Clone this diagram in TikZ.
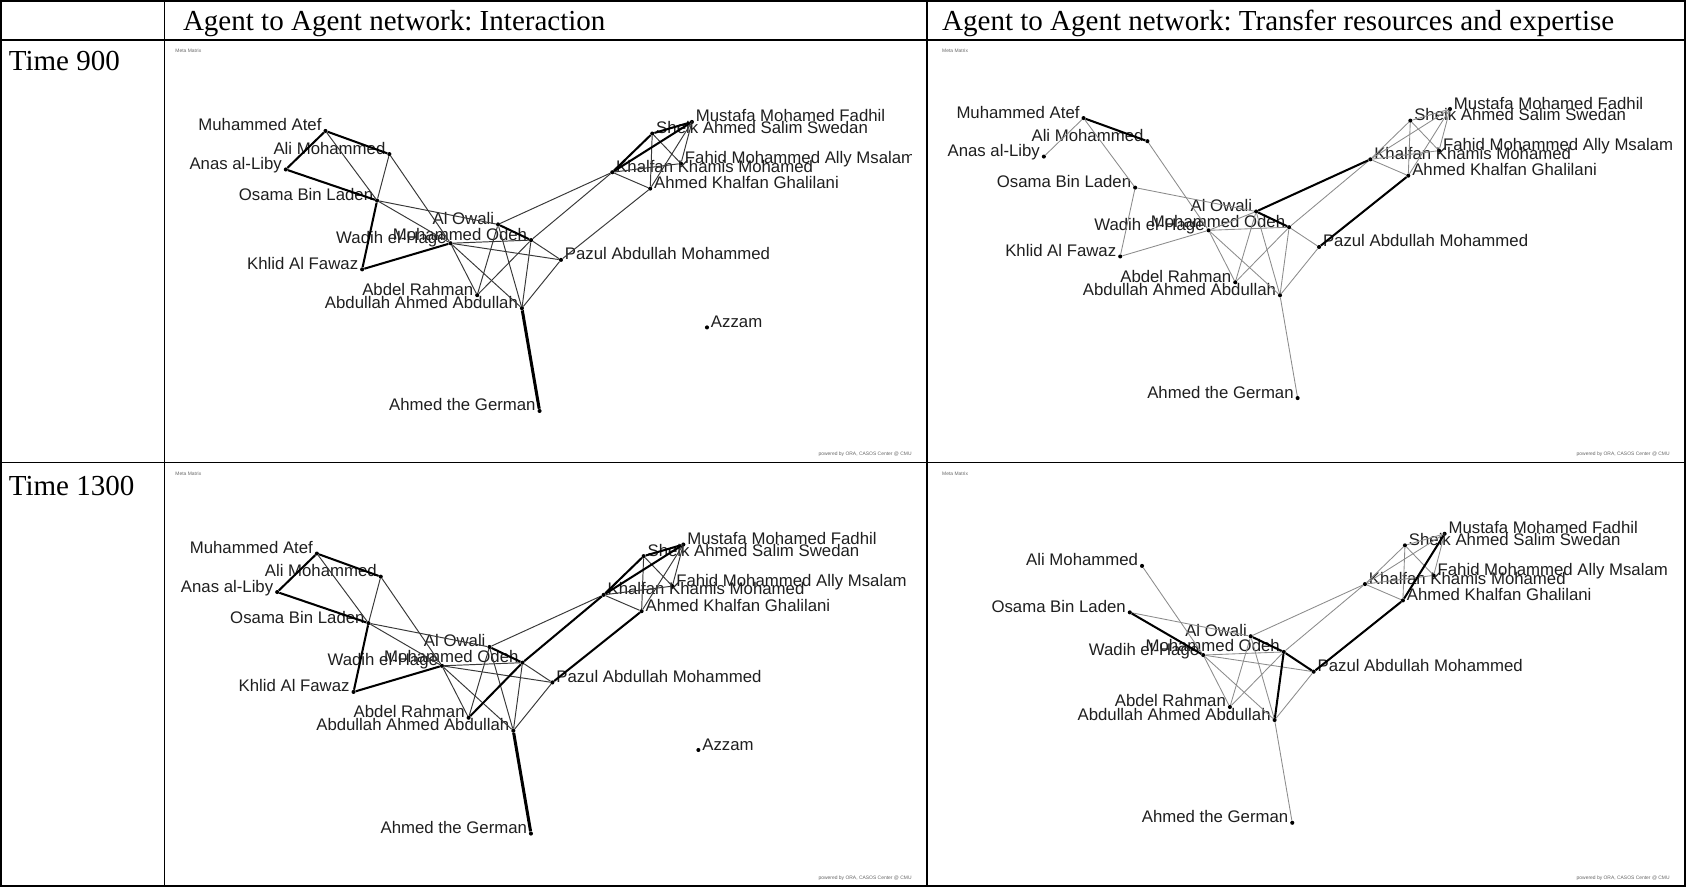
\documentclass[tikz,border=0pt]{standalone}
\usepackage{fontspec}
\setmainfont{Liberation Serif}
\newfontfamily\orafont{Liberation Sans}
\usetikzlibrary{calc, positioning}
\frenchspacing

\tikzset{
  tableline/.style={line width=1.6pt},
  header/.style={anchor=base west, inner sep=0pt, font=\fontsize{27}{31}\selectfont},
  stamp/.style={inner sep=0pt, text=black!60, font=\orafont\fontsize{4.6}{5}\selectfont},
  agent/.style={circle, fill=black, inner sep=0pt, minimum size=3.8pt},
  tagl/.style={anchor=base east, inner sep=0pt, xshift=-3.5pt, text=black!88,
    font=\orafont\fontsize{15.6}{18}\selectfont},
  tagr/.style={anchor=base west, inner sep=0pt, xshift=3.5pt, text=black!88,
    font=\orafont\fontsize{15.6}{18}\selectfont},
  tie/.style={black!78, line width=0.9pt},
  bond/.style={black, line width=1.9pt},
  haul/.style={black, line width=2.8pt},
  faint/.style={black!45, line width=0.8pt},
}

% one agent: dot plus its name
\newcommand{\agent}[4]{%
  \node[agent] (#1) at #2 {};
  \node[#3] (#1-tag) at (#1.center) {#4};}

\newcommand{\agMA}{\agent{ma}{(302.7,121.8)}{tagl}{Muhammed Atef}}
\newcommand{\agAM}{\agent{am}{(362.1,143.3)}{tagl}{Ali Mohammed}}
\newcommand{\agAL}{\agent{al}{(265.8,157.6)}{tagl}{Anas al-Liby}}
\newcommand{\agOBL}{\agent{obl}{(350.7,186.5)}{tagl}{Osama Bin Laden}}
\newcommand{\agAO}{\agent{ao}{(463.2,208.7)}{tagl}{Al Owali}}
\newcommand{\agMO}{\agent{mo}{(493.9,223.3)}{tagl}{Mohammed Odeh}}
\newcommand{\agWH}{\agent{wh}{(419,226.2)}{tagl}{Wadih el-Hage}}
\newcommand{\agKF}{\agent{kf}{(336.8,250.5)}{tagl}{Khlid Al Fawaz}}
\newcommand{\agPA}{\agent{pa}{(521.7,241.7)}{tagr}{Pazul Abdullah Mohammed}}
\newcommand{\agAR}{\agent{ar}{(443.8,274.5)}{tagl}{Abdel Rahman}}
\newcommand{\agAAA}{\agent{aaa}{(485.4,286.6)}{tagl}{Abdullah Ahmed Abdullah}}
\newcommand{\agAG}{\agent{ag}{(501.8,382.2)}{tagl}{Ahmed the German}}
\newcommand{\agAZ}{\agent{az}{(657.5,304.5)}{tagr}{Azzam}}
\newcommand{\agMF}{\agent{mf}{(643.5,113.4)}{tagr}{Mustafa Mohamed Fadhil}}
\newcommand{\agSS}{\agent{ss}{(606.6,124.2)}{tagr}{Sheik Ahmed Salim Swedan}}
\newcommand{\agFM}{\agent{fm}{(633.3,152.1)}{tagr}{Fahid Mohammed Ally Msalam}}
\newcommand{\agKK}{\agent{kk}{(569.4,160.2)}{tagr}{Khalfan Khamis Mohamed}}
\newcommand{\agAK}{\agent{ak}{(604.7,175.4)}{tagr}{Ahmed Khalfan Ghalilani}}

\begin{document}
\begin{tikzpicture}[x=1pt, y=-1pt]
  \useasboundingbox (0,0) rectangle (1568,825);

  % table
  \draw[tableline] (1,1) rectangle (1567,824);
  \draw[tableline] (153,1) -- (153,824);
  \draw[tableline] (862,1) -- (862,824);
  \draw[tableline] (1,37) -- (1567,37);
  \draw[tableline] (1,430) -- (1567,430);

  \node[header] (head-left)  at (170,28) {Agent to Agent network: Interaction};
  \node[header] (head-right) at (876,28) {Agent to Agent network: Transfer resources and expertise};
  \node[header] (time-early) at (8,66)   {Time 900};
  \node[header] (time-late)  at (8,461)  {Time 1300};

  % interaction, time 900
  \begin{scope}
    \clip (155,39) rectangle (848,428);
    \node[stamp, anchor=west] (meta-a) at (163,47) {Meta Matrix};
    \node[stamp, anchor=east] (ora-a) at (848,422) {powered by ORA, CASOS Center @ CMU};
    \agMA \agAM \agAL \agOBL \agAO \agMO \agWH \agKF \agPA
    \agAR \agAAA \agAG \agAZ \agMF \agSS \agFM \agKK \agAK
    \foreach \a/\b in {ma/obl, am/obl, am/wh, obl/ao, obl/wh, wh/mo, wh/pa, wh/ar,
      wh/aaa, ao/ar, ao/aaa, ao/kk, mo/ar, mo/aaa, mo/pa, mo/kk, pa/ak, pa/aaa,
      kk/fm, kk/ak, ss/fm, ss/ak, mf/fm, mf/ak}
      \draw[tie] (\a) -- (\b);
    \foreach \a/\b in {ma/al, ma/am, al/obl, obl/kf, kf/wh, ao/mo, kk/ss, ss/mf, kk/mf}
      \draw[bond] (\a) -- (\b);
    \draw[haul] (aaa) -- (ag);
  \end{scope}

  % transfer, time 900
  \begin{scope}
    \node[stamp, anchor=west] (meta-b) at (876,47) {Meta Matrix};
    \node[stamp, anchor=east] (ora-b) at (1553,422) {powered by ORA, CASOS Center @ CMU};
    \begin{scope}[shift={(705,-12)}]
      \agMA \agAM \agAL \agOBL \agAO \agMO \agWH \agKF \agPA
      \agAR \agAAA \agAG \agMF \agSS \agFM \agKK \agAK
    \end{scope}
    \foreach \a/\b in {ma/al, ma/obl, am/wh, obl/kf, obl/ao, kf/wh, wh/ao, wh/mo,
      wh/ar, wh/aaa, ao/ar, ao/aaa, mo/ar, mo/aaa, mo/pa, mo/kk, pa/aaa, aaa/ag,
      kk/ss, kk/mf, kk/fm, kk/ak, ss/ak, ss/fm, ss/mf, mf/fm, mf/ak}
      \draw[faint] (\a) -- (\b);
    \foreach \a/\b in {ma/am, ao/mo, ao/kk, pa/ak}
      \draw[bond] (\a) -- (\b);
  \end{scope}

  % interaction, time 1300
  \begin{scope}
    \node[stamp, anchor=west] (meta-c) at (163,441) {Meta Matrix};
    \node[stamp, anchor=east] (ora-c) at (848,817) {powered by ORA, CASOS Center @ CMU};
    \begin{scope}[shift={(-8,393)}]
      \agMA \agAM \agAL \agOBL \agAO \agMO \agWH \agKF \agPA
      \agAR \agAAA \agAG \agAZ \agMF \agSS \agFM \agKK \agAK
    \end{scope}
    \foreach \a/\b in {ma/obl, am/obl, am/wh, obl/ao, obl/wh, wh/mo, wh/pa, wh/ar,
      wh/aaa, ao/ar, ao/aaa, ao/kk, mo/aaa, mo/pa, pa/aaa,
      kk/fm, kk/ak, ss/fm, ss/ak, mf/fm, mf/ak}
      \draw[tie] (\a) -- (\b);
    \foreach \a/\b in {ma/al, ma/am, al/obl, obl/kf, kf/wh, ao/mo, ar/mo, mo/kk,
      pa/ak, kk/ss, ss/mf, kk/mf}
      \draw[bond] (\a) -- (\b);
    \draw[haul] (aaa) -- (ag);
  \end{scope}

  % transfer, time 1300
  \begin{scope}
    \node[stamp, anchor=west] (meta-d) at (876,441) {Meta Matrix};
    \node[stamp, anchor=east] (ora-d) at (1553,817) {powered by ORA, CASOS Center @ CMU};
    \begin{scope}[shift={(700,383)}]
      \agAM \agOBL \agAO \agMO \agWH \agPA
      \agAR \agAAA \agAG \agMF \agSS \agFM \agKK \agAK
    \end{scope}
    \foreach \a/\b in {am/wh, obl/ao, wh/mo, wh/pa, wh/ar, wh/aaa, ao/ar, ao/aaa,
      ao/kk, mo/ar, mo/kk, pa/aaa, aaa/ag, kk/ss, kk/mf, kk/fm, kk/ak, ss/ak,
      ss/fm, ss/mf, mf/fm}
      \draw[faint] (\a) -- (\b);
    \foreach \a/\b in {obl/wh, ao/mo, mo/pa, mo/aaa, pa/ak, ak/mf}
      \draw[bond] (\a) -- (\b);
  \end{scope}
\end{tikzpicture}
\end{document}
